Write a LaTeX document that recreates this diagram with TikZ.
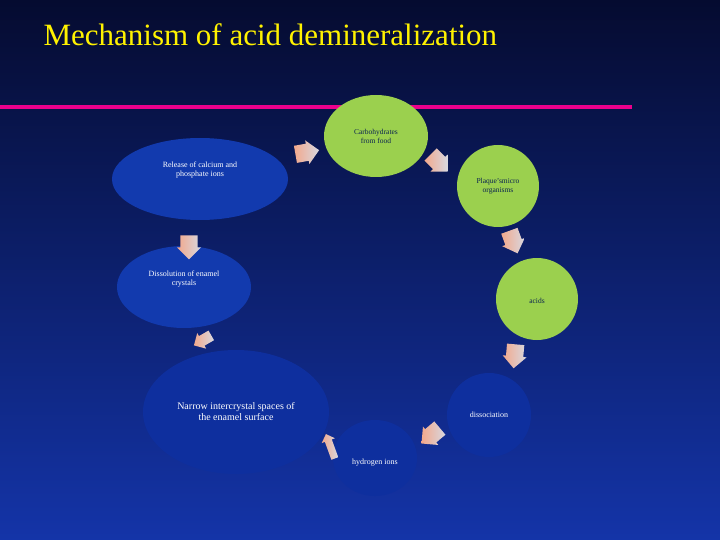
\documentclass[tikz,border=0pt]{standalone}
\usepackage{fontspec}
\setmainfont{Liberation Serif}
\usetikzlibrary{shapes.arrows,shapes.geometric}
\definecolor{bgtop}{HTML}{050B30}
\definecolor{bgbot}{HTML}{1434A8}
\definecolor{lgreen}{HTML}{9BD04E}
\definecolor{dblue}{HTML}{123AAE}
\definecolor{nblue}{HTML}{0E2F9E}
\definecolor{dtext}{HTML}{0B2350}
\definecolor{apink}{HTML}{F2A88C}
\definecolor{agray}{HTML}{D8D8E0}
\tikzset{
  gnode/.style={ellipse,fill=lgreen,draw=none,text=dtext,align=center,font=\fontsize{7.5}{9}\selectfont},
  bnode/.style={ellipse,fill=dblue,draw=none,text=white,align=center,font=\fontsize{8}{9.5}\selectfont},
  arr/.style={single arrow,draw=none,left color=apink,right color=agray,minimum height=24pt,minimum width=24pt,single arrow head extend=2pt,inner sep=5pt}
}
\begin{document}
\begin{tikzpicture}[x=1pt,y=-1pt]
\shade[top color=bgtop,bottom color=bgbot] (0,0) rectangle (720,540);
\useasboundingbox (0,0) rectangle (720,540);
\node[anchor=west,text=yellow,font=\fontsize{31}{34}\selectfont] (title) at (40,35) {Mechanism of acid demineralization};
\coordinate (l1) at (0,107); \coordinate (l2) at (632,107);
\draw[magenta,line width=4pt] (l1) -- (l2);
\node[gnode,minimum width=104,minimum height=82] (carb) at (376,136) {Carbohydrates\\from food};
\node[gnode,minimum width=82,minimum height=82] (plaq) at (498,186) {Plaque'smicro\\organisms};
\node[gnode,minimum width=82,minimum height=82] (acid) at (537,299) {\\acids};
\node[bnode,fill=nblue,minimum width=84,minimum height=84] (diss) at (489,415) {dissociation};
\node[bnode,fill=nblue,minimum width=84,minimum height=76] (hyd) at (375,458) {\\[6pt]hydrogen ions};
\node[bnode,fill=nblue,minimum width=186,minimum height=124,font=\fontsize{10}{11}\selectfont] (narrow) at (236,412) {Narrow intercrystal spaces of\\the enamel surface};
\node[bnode,minimum width=134,minimum height=82] (dissol) at (184,287) {Dissolution of enamel\\crystals\\[8pt]};
\node[bnode,minimum width=176,minimum height=82] (rel) at (200,179) {Release of calcium and\\phosphate ions\\[10pt]};
\node[arr,rotate=10] (a1) at (303,153) {};
\node[arr,rotate=-45] (a2) at (436,160) {};
\node[arr,rotate=-70] (a3) at (512,238) {};
\node[arr,rotate=-95] (a4) at (515,352) {};
\node[arr,rotate=-140] (a5) at (434,433) {};
\node[arr,rotate=110,minimum width=14pt,minimum height=26pt,inner sep=2pt] (a6) at (331,448) {};
\node[arr,rotate=-150,minimum width=18pt,minimum height=20pt,inner sep=3pt] (a7) at (205,339) {};
\node[arr,rotate=-90] (a8) at (189,243) {};
\end{tikzpicture}
\end{document}
